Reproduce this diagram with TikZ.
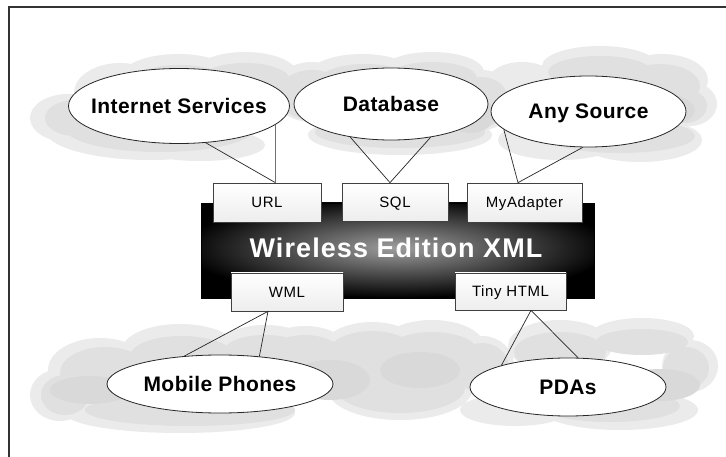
\documentclass[tikz,border=0pt]{standalone}
\usepackage{fontspec}
\setmainfont{Liberation Sans}
\newfontfamily\portfont[LetterSpace=4]{Liberation Sans}
\newfontfamily\lblfont[LetterSpace=2]{Liberation Sans}
\newfontfamily\barfont[LetterSpace=4]{Liberation Sans}
\usetikzlibrary{shapes.geometric,calc}
\begin{document}
\begin{tikzpicture}[x=1pt,y=-1pt,
  src/.style={ellipse, draw=black!85, fill=white, line width=0.8pt, inner sep=0pt},
  lbl/.style={font=\lblfont\bfseries\fontsize{21}{24}\selectfont, text depth=0pt},
  port/.style={rectangle, draw=black!75, line width=0.7pt, top color=white, bottom color=black!7,
     font=\portfont\fontsize{15}{18}\selectfont, text height=11pt, text depth=0pt, inner sep=0pt},
  link/.style={draw=black!85, line width=0.7pt},
  cloudout/.style={fill=black!8},
  cloudin/.style={fill=black!12},
  clouddark/.style={fill=black!15},
]
\useasboundingbox (0,0) rectangle (726,457);
\fill[white] (0,0) rectangle (726,457);
% frame
\draw[black!80, line width=1.6pt] (9,457) -- (9,7) -- (726,7);

% ---- top cloud ----
\fill[cloudout]
  (68,118) ellipse (38pt and 24pt)
  (120,93) ellipse (46pt and 30pt)
  (178,78) ellipse (58pt and 24pt)
  (245,74) ellipse (52pt and 22pt)
  (150,130) ellipse (105pt and 30pt)
  (200,145) ellipse (65pt and 16pt)
  (312,92) ellipse (40pt and 30pt)
  (362,74) ellipse (52pt and 20pt)
  (432,72) ellipse (52pt and 20pt)
  (400,135) ellipse (92pt and 20pt)
  (482,100) ellipse (32pt and 30pt)
  (522,84) ellipse (36pt and 22pt)
  (600,66) ellipse (58pt and 20pt)
  (662,80) ellipse (46pt and 26pt)
  (690,104) ellipse (27pt and 22pt)
  (640,140) ellipse (62pt and 22pt)
  (560,140) ellipse (62pt and 20pt);
\fill[cloudin]
  (75,118) ellipse (30pt and 18pt)
  (125,98) ellipse (40pt and 24pt)
  (180,85) ellipse (52pt and 20pt)
  (245,80) ellipse (45pt and 17pt)
  (160,128) ellipse (95pt and 24pt)
  (312,95) ellipse (34pt and 25pt)
  (365,80) ellipse (45pt and 16pt)
  (432,78) ellipse (45pt and 16pt)
  (400,132) ellipse (85pt and 16pt)
  (482,102) ellipse (27pt and 25pt)
  (600,72) ellipse (52pt and 16pt)
  (660,86) ellipse (40pt and 22pt)
  (685,106) ellipse (22pt and 17pt)
  (620,136) ellipse (75pt and 17pt);
\fill[clouddark]
  (140,110) ellipse (60pt and 15pt)
  (330,110) ellipse (30pt and 15pt)
  (470,115) ellipse (25pt and 18pt)
  (650,110) ellipse (45pt and 18pt);

% ---- bottom cloud ----
\fill[cloudout]
  (60,395) ellipse (30pt and 26pt)
  (100,370) ellipse (52pt and 32pt)
  (180,350) ellipse (58pt and 26pt)
  (265,345) ellipse (46pt and 20pt)
  (180,413) ellipse (115pt and 20pt)
  (305,362) ellipse (52pt and 36pt)
  (372,352) ellipse (52pt and 30pt)
  (432,346) ellipse (52pt and 26pt)
  (400,390) ellipse (72pt and 30pt)
  (482,366) ellipse (32pt and 30pt)
  (560,346) ellipse (52pt and 26pt)
  (642,336) ellipse (52pt and 18pt)
  (690,366) ellipse (28pt and 26pt)
  (620,410) ellipse (78pt and 20pt)
  (515,410) ellipse (55pt and 16pt);
\fill[cloudin]
  (65,395) ellipse (24pt and 20pt)
  (105,373) ellipse (45pt and 26pt)
  (182,356) ellipse (52pt and 20pt)
  (265,350) ellipse (40pt and 15pt)
  (190,410) ellipse (105pt and 16pt)
  (305,365) ellipse (45pt and 30pt)
  (372,356) ellipse (46pt and 25pt)
  (432,352) ellipse (46pt and 20pt)
  (400,388) ellipse (65pt and 25pt)
  (482,368) ellipse (27pt and 25pt)
  (560,352) ellipse (46pt and 20pt)
  (642,342) ellipse (46pt and 13pt)
  (686,368) ellipse (23pt and 21pt)
  (610,406) ellipse (70pt and 16pt);
\fill[clouddark]
  (90,390) ellipse (40pt and 14pt)
  (330,380) ellipse (40pt and 20pt)
  (420,370) ellipse (40pt and 18pt)
  (660,385) ellipse (40pt and 16pt);

% ---- central bar ----
\node (xml) [rectangle, fill=black, draw=black, minimum width=393pt, minimum height=95pt, inner sep=0pt,
  path picture={\shade[inner color=black!38, outer color=black]
     ($(path picture bounding box.center)+(-1,-3)$) ellipse (215pt and 50pt);}] at (397.5,250.5) {};
\node (xmltext) [font=\barfont\bfseries\fontsize{27}{30}\selectfont, text=white, text depth=0pt] at (396,247.5) {Wireless Edition XML};

% ---- ports ----
\node (url) [port, minimum width=108pt, minimum height=39pt] at (267,202.5) {URL};
\node (sql) [port, minimum width=106pt, minimum height=38pt] at (395,202) {SQL};
\node (ma)  [port, minimum width=115pt, minimum height=39pt] at (524.5,202.5) {MyAdapter};
\node (wml) [port, minimum width=112pt, minimum height=38pt] at (287,292) {WML};
\node (th)  [port, minimum width=111pt, minimum height=37pt] at (510.5,291.5) {Tiny HTML};

% ---- sources / targets ----
\node (is)  [src, minimum width=221pt, minimum height=75pt, label={[lbl]center:Internet Services}] at (179,106) {};
\node (db)  [src, minimum width=194pt, minimum height=72pt, label={[lbl]center:Database}] at (391,104) {};
\node (as)  [src, minimum width=195pt, minimum height=71pt, label={[lbl]center:Any Source}] at (588.5,111.5) {};
\node (mp)  [src, minimum width=226pt, minimum height=58pt, label={[lbl]center:Mobile Phones}] at (220,384) {};
\node (pda) [src, minimum width=196pt, minimum height=58pt, label={[lbl]center:PDAs}] at (568,387) {};

% ---- connectors ----
\coordinate (urlt) at (is.-11 |- url.north);
\draw[link] (is.-54) -- (urlt) -- (is.-11);
\coordinate (sqlt) at ($(sql.north)+(-5,0)$);
\draw[link] (db.-141) -- (sqlt) -- (db.-40);
\coordinate (mat) at ($(ma.north)+(-6.5,0)$);
\draw[link] (as.-168) -- (mat) -- (as.-99);
\coordinate (wmb) at ($(wml.south)+(-19,0)$);
\draw[link] (mp.142) -- (wmb) -- (mp.35);
\coordinate (thb) at ($(th.south)+(20.5,0)$);
\draw[link] (pda.162) -- (thb) -- (pda.71);
\end{tikzpicture}
\end{document}
